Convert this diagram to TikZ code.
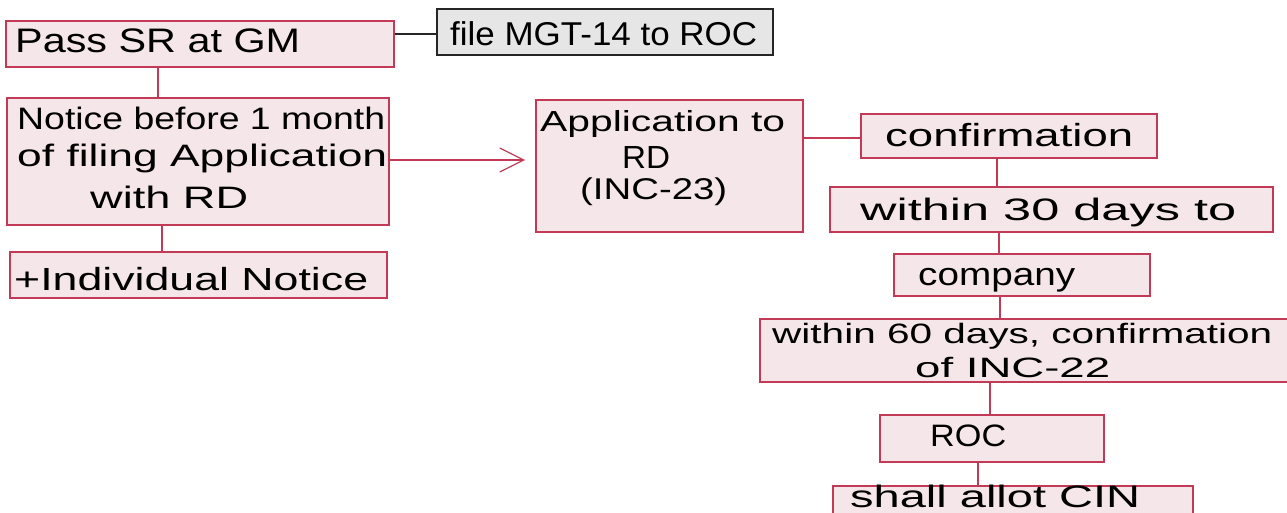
\documentclass[tikz,border=0pt]{standalone}
\usepackage{fontspec}
\setmainfont{Liberation Sans}
\usepackage{graphicx}
\usetikzlibrary{arrows.meta}
\definecolor{boxfill}{HTML}{F5E6EA}
\definecolor{boxline}{HTML}{C23A55}
\definecolor{grayfill}{HTML}{E6E6E6}
\newcommand\hwtext[3]{{\fontsize{#1}{#1}\selectfont\resizebox{#2pt}{\height}{#3}}}
\tikzset{
  box/.style={draw=boxline, fill=boxfill, line width=1.8pt, anchor=north west, inner sep=0pt},
  graybox/.style={draw=black!85, fill=grayfill, line width=1.8pt, anchor=north west, inner sep=0pt},
  txt/.style={anchor=base west, inner sep=0pt, text=black},
  link/.style={draw=boxline, line width=1.2pt},
  blink/.style={draw=black!85, line width=1.2pt},
}
\begin{document}
\begin{tikzpicture}[x=1pt,y=-1pt]
\useasboundingbox (0,0) rectangle (1287,513);
% boxes
\node[box, minimum width=388pt, minimum height=46pt] (pass) at (5,20) {};
\node[graybox, minimum width=336pt, minimum height=46pt] (mgt) at (436,8) {};
\node[box, minimum width=382pt, minimum height=127pt] (notice) at (6,97) {};
\node[box, minimum width=377pt, minimum height=46pt] (indiv) at (9,251) {};
\node[box, minimum width=267pt, minimum height=132pt] (app) at (535,99) {};
\node[box, minimum width=296pt, minimum height=44pt] (conf) at (860,113) {};
\node[box, minimum width=443pt, minimum height=45pt] (w30) at (829,186) {};
\node[box, minimum width=256pt, minimum height=42pt] (comp) at (893,253) {};
\node[box, minimum width=540pt, minimum height=63pt] (w60) at (759,318) {};
\node[box, minimum width=224pt, minimum height=47pt] (roc) at (879,414) {};
\node[box, minimum width=360pt, minimum height=50pt] (cin) at (832,485) {};
% texts
\node[txt] (tpass) at (15,53) {\hwtext{34}{285}{Pass SR at GM}};
\node[txt] (tmgt) at (450,46) {\hwtext{33}{307}{file MGT-14 to ROC}};
\node[txt] (tn1) at (17,130) {\hwtext{31}{368}{Notice before 1 month}};
\node[txt] (tn2) at (17,167) {\hwtext{31}{370}{of filing Application}};
\node[txt] (tn3) at (90,208) {\hwtext{31}{158}{with RD}};
\node[txt] (tind) at (14,290) {\hwtext{32}{354}{+Individual Notice}};
\node[txt] (ta1) at (540,132) {\hwtext{29}{245}{Application to}};
\node[txt] (ta2) at (622,169) {\hwtext{32}{48}{RD}};
\node[txt] (ta3) at (580,200) {\hwtext{30}{147}{(INC-23)}};
\node[txt] (tconf) at (885,147) {\hwtext{32}{248}{confirmation}};
\node[txt] (tw30) at (860,221) {\hwtext{31}{376}{within 30 days to}};
\node[txt] (tcomp) at (918,285) {\hwtext{32}{157}{company}};
\node[txt] (tw60a) at (772,343) {\hwtext{28}{500}{within 60 days, confirmation}};
\node[txt] (tw60b) at (915,377) {\hwtext{28}{195}{of INC-22}};
\node[txt] (troc) at (930,446) {\hwtext{31}{76}{ROC}};
\node[txt] (tcin) at (850,507) {\hwtext{31}{290}{shall allot CIN}};
% connectors
\coordinate (tip) at (525,160);
\draw[blink] (pass.east |- 0,34) -- (mgt.west |- 0,34);
\draw[link] (pass.south -| 158,0) -- (notice.north -| 158,0);
\draw[link] (notice.south -| 162,0) -- (indiv.north -| 162,0);
\draw[link, -{Straight Barb[length=24pt,width=24pt,line width=1.2pt]}] (notice.east |- 0,160) -- (tip);
\draw[link] (app.east |- 0,138) -- (conf.west |- 0,138);
\draw[link] (conf.south -| 997,0) -- (w30.north -| 997,0);
\draw[link] (w30.south -| 999,0) -- (comp.north -| 999,0);
\draw[link] (comp.south -| 1000,0) -- (w60.north -| 1000,0);
\draw[link] (w60.south -| 990,0) -- (roc.north -| 990,0);
\draw[link] (roc.south -| 978,0) -- (cin.north -| 978,0);
\end{tikzpicture}
\end{document}
